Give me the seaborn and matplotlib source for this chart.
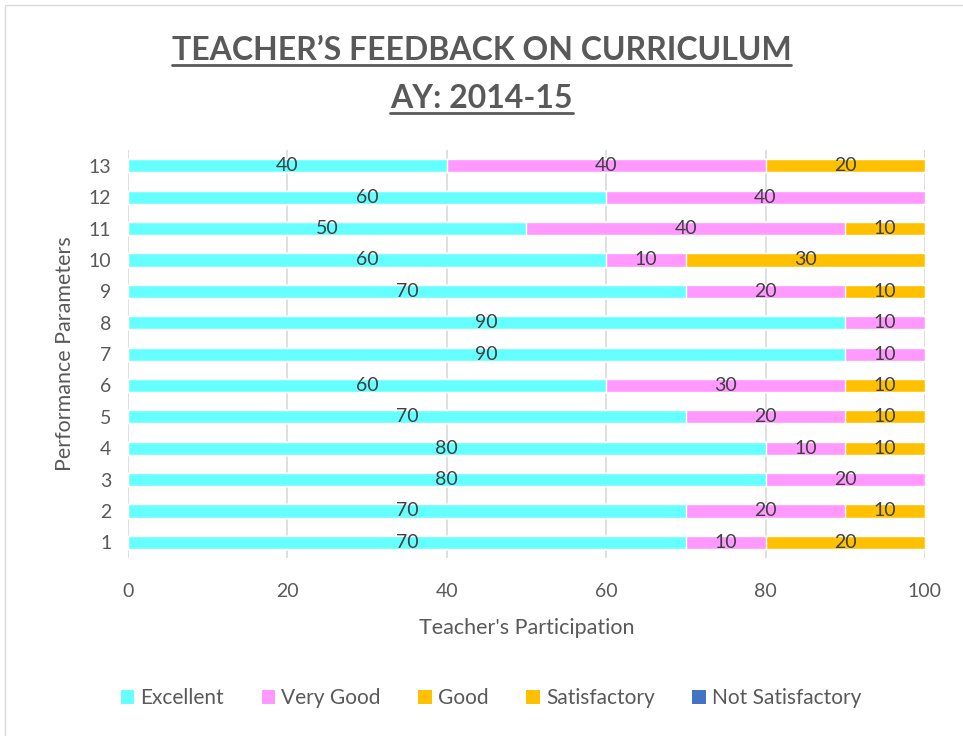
import numpy as np
import pandas as pd
import seaborn as sns
import matplotlib.pyplot as plt
from matplotlib.patches import Patch, Rectangle
from matplotlib.lines import Line2D

# data (parameter 1 .. 13)
params = [str(i) for i in range(1, 14)]
excellent = [70, 70, 80, 80, 70, 60, 90, 90, 70, 60, 50, 60, 40]
very_good = [10, 20, 20, 10, 20, 30, 10, 10, 20, 10, 40, 40, 40]
good = [20, 10, 0, 10, 10, 10, 0, 0, 10, 30, 10, 0, 20]
satisfactory = [0] * 13
not_satisfactory = [0] * 13

series_names = ["Excellent", "Very Good", "Good", "Satisfactory", "Not Satisfactory"]
colors = ["#66FFFF", "#FF99FF", "#FFC000", "#FFC000", "#4472C4"]

sns.set_style("white")
plt.rcParams["font.family"] = ["Lato", "DejaVu Sans"]
text_col = "#595959"

df = pd.DataFrame({
    "param": params,
    "Excellent": excellent,
    "Very Good": very_good,
    "Good": good,
    "Satisfactory": satisfactory,
    "Not Satisfactory": not_satisfactory,
})
cum = df[series_names].cumsum(axis=1)
order = params[::-1]  # 13 on top

fig = plt.figure(figsize=(9.63, 7.36), dpi=100)
ax = fig.add_axes([0.1329, 0.2418, 0.9605 - 0.1329, 0.796 - 0.2418])

# stacked bars: draw cumulative totals back to front
for name, col in reversed(list(zip(series_names, colors))):
    sns.barplot(data=cum.assign(param=df["param"]), x=name, y="param", order=order,
                orient="h", color=col, width=0.42, saturation=1, ax=ax, zorder=3)

# segment labels
for i, p in enumerate(params):
    left = 0
    for name in series_names:
        v = df.loc[i, name]
        if v > 0:
            ax.text(left + v / 2, order.index(p), str(v), ha="center", va="center",
                    fontsize=14, color="#404040", zorder=5)
        left += v

ax.set_xlim(0, 100)
ax.set_xticks(range(0, 101, 20))
ax.grid(axis="x", color="#D9D9D9", linewidth=1.2, zorder=0)
ax.grid(axis="y", visible=False)
sns.despine(ax=ax, left=True, bottom=True)
ax.tick_params(axis="both", length=0, labelsize=14, labelcolor=text_col)
ax.tick_params(axis="x", pad=18)
ax.tick_params(axis="y", pad=12)
ax.set_xlabel("Teacher's Participation", fontsize=15.5, color=text_col, labelpad=13)
ax.set_ylabel("Performance Parameters", fontsize=15.5, color=text_col, labelpad=10)

handles = [Patch(facecolor=c, edgecolor="none") for c in colors]
fig.legend(handles, series_names, loc="center", bbox_to_anchor=(0.51, 1 - 698 / 736),
           ncol=5, frameon=False, fontsize=15, handlelength=0.65, handleheight=0.65,
           handletextpad=0.3, columnspacing=1.8, labelcolor=text_col)

# title with underline
t1 = fig.text(0.5, 1 - 50 / 736, "TEACHER\u2019S FEEDBACK ON CURRICULUM", ha="center",
              va="center", fontsize=23, fontweight="bold", color=text_col)
t2 = fig.text(0.5, 1 - 98 / 736, "AY: 2014-15", ha="center", va="center",
              fontsize=23, fontweight="bold", color=text_col)
fig.canvas.draw()
r = fig.canvas.get_renderer()
for t in (t1, t2):
    bb = t.get_window_extent(renderer=r).transformed(fig.transFigure.inverted())
    y = bb.y0 - 0.001
    fig.add_artist(Line2D([bb.x0, bb.x1], [y, y], color=text_col, linewidth=2,
                          transform=fig.transFigure))

# chart border
fig.add_artist(Rectangle((5 / 963, -0.01), 1.0, 1 - 5 / 736 + 0.01, transform=fig.transFigure,
                         fill=False, edgecolor="#D9D9D9", linewidth=1))

fig.savefig("out.png", dpi=100)
